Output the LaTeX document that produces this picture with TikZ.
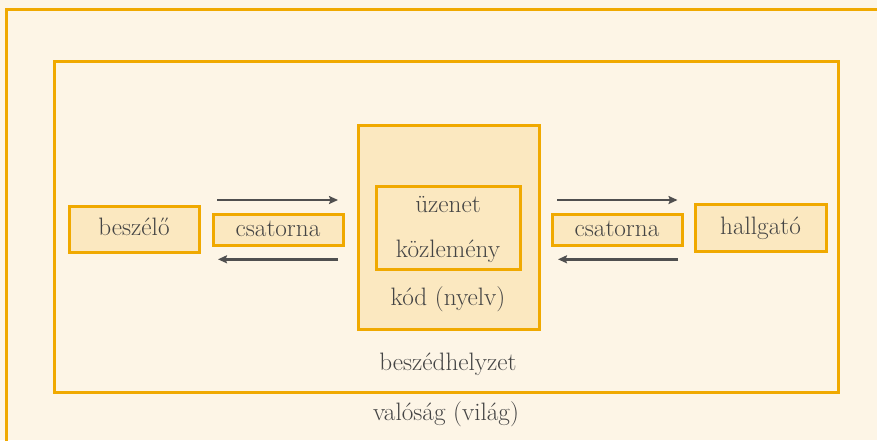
\documentclass[tikz,border=0pt]{standalone}
\usetikzlibrary{arrows.meta}
\definecolor{paper}{HTML}{FDF5E6}
\definecolor{frame}{HTML}{F0A900}
\definecolor{boxfill}{HTML}{FBE8C0}
\definecolor{ink}{HTML}{444444}
\definecolor{arrowink}{HTML}{4F4F4F}
\begin{document}
\begin{tikzpicture}[x=1pt,y=-1pt,
  every node/.style={font=\fontsize{25.2}{30}\selectfont, text=ink},
  frameline/.style={draw=frame, line width=3pt},
  box/.style={frameline, fill=boxfill, inner sep=0pt, text height=13pt, text depth=0pt},
  label/.style={anchor=base, inner sep=0pt},
  flow/.style={draw=arrowink, line width=2.4pt, -{Stealth[length=9pt,width=8pt,inset=1.5pt]}}
]
\useasboundingbox (0,0) rectangle (877,440);
\clip (0,0) rectangle (877,440);
\fill[paper] (0,0) rectangle (877,440);

% outer frame (world) and speech situation frame
\draw[frameline] (6,9.5) rectangle (900,470);
\draw[frameline] (54.5,61.5) rectangle (838,392.5);

% central code box with the message box inside
\node[frameline, fill=boxfill, minimum width=181pt, minimum height=204pt] (kod) at (448.5,227) {};
\node[frameline, minimum width=144pt, minimum height=83pt] (uzenet) at (448,227.5) {};

% participants and channels
\node[box, minimum width=130pt, minimum height=46pt] (beszelo) at (134,229) {beszélő};
\node[box, minimum width=130pt, minimum height=31pt] (csatL) at (278,229.5) {csatorna};
\node[box, minimum width=130pt, minimum height=31pt] (csatR) at (617,229.5) {csatorna};
\node[box, minimum width=131pt, minimum height=47pt] (hallgato) at (760.5,227.5) {hallgató};

% labels
\node[label] (tUzenet) at (448,212.3) {üzenet};
\node[label] (tKozlemeny) at (448,257.3) {közlemény};
\node[label] (tKod) at (448,305) {kód (nyelv)};
\node[label] (tHelyzet) at (448,370.7) {beszédhelyzet};
\node[label] (tValosag) at (446,420.7) {valóság (világ)};

% arrow end points
\coordinate (l1s) at (217,200);
\coordinate (l1e) at (338,200);
\coordinate (l2s) at (338,259.3);
\coordinate (l2e) at (218,259.3);
\coordinate (r1s) at (557,200);
\coordinate (r1e) at (677.5,200);
\coordinate (r2s) at (678,259.3);
\coordinate (r2e) at (558,259.3);

\draw[flow] (l1s) -- (l1e);
\draw[flow] (l2s) -- (l2e);
\draw[flow] (r1s) -- (r1e);
\draw[flow] (r2s) -- (r2e);
\end{tikzpicture}
\end{document}
